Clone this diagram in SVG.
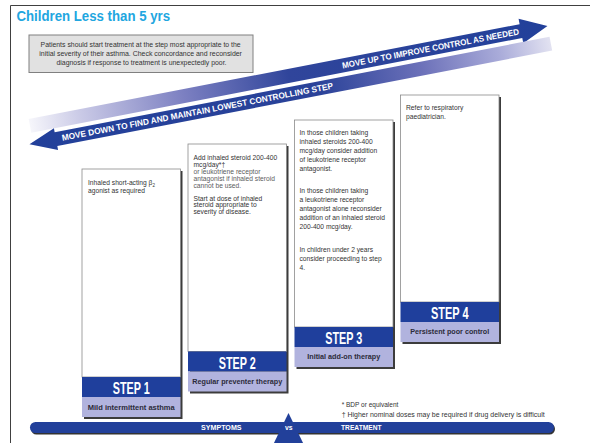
<svg xmlns="http://www.w3.org/2000/svg" width="595" height="443" viewBox="0 0 595 443">
<defs>
<linearGradient id="gUp" x1="0" y1="0" x2="527" y2="0" gradientUnits="userSpaceOnUse">
<stop offset="0" stop-color="#f6f6fb"/>
<stop offset="0.1" stop-color="#c9c9e6"/>
<stop offset="0.3" stop-color="#7b7fc1"/>
<stop offset="0.5" stop-color="#30459b"/>
<stop offset="1" stop-color="#22409a"/>
</linearGradient>
<linearGradient id="gDown" x1="0" y1="0" x2="527" y2="0" gradientUnits="userSpaceOnUse">
<stop offset="0" stop-color="#22409a"/>
<stop offset="0.55" stop-color="#2a4299"/>
<stop offset="0.75" stop-color="#6c71b9"/>
<stop offset="0.9" stop-color="#a9abd9"/>
<stop offset="1" stop-color="#e2e2f1"/>
</linearGradient>
<style>
.frame{fill:none;stroke:#404040;stroke-width:1}
.ff{font-family:"Liberation Sans",Arial,sans-serif}
.body{font-size:6.7px;fill:#333}
.light{fill:#5c5c5c}
.shadow{fill:#3c3c3c}
.box{fill:#fff;stroke:#8a8a8a;stroke-width:0.8}
.hdr{fill:#1f3f9c}
.lab{fill:#b1b3de}
.step{font-weight:bold;font-size:17px;fill:#fff;text-anchor:middle}
.labt{font-weight:bold;font-size:7px;fill:#2b2b3a;text-anchor:middle}
.band{font-weight:bold;font-size:8.5px;fill:#fff}
.blue{fill:#22409a}
.wt{font-weight:bold;font-size:6.8px;fill:#fff;text-anchor:middle}
</style>
</defs>
<rect width="595" height="443" fill="#fff"/>
<path class="frame" d="M10.5,443 V5.5 H590"/>

<g id="title">
<text class="ff" x="16.5" y="20.5" font-size="14" font-weight="bold" fill="#22a6df" textLength="153.5" lengthAdjust="spacingAndGlyphs">Children Less than 5 yrs</text>
</g>

<g id="note">
<rect x="29" y="35" width="224" height="37.5" fill="#e1e1e1" stroke="#808080" stroke-width="1"/>
<text class="ff" font-size="6.4" fill="#333" text-anchor="middle">
<tspan x="141.5" y="46.5" textLength="200" lengthAdjust="spacingAndGlyphs">Patients should start treatment at the step most appropriate to the</tspan>
<tspan x="141.5" y="55.5" textLength="202.7" lengthAdjust="spacingAndGlyphs">initial severity of their asthma. Check concordance and reconsider</tspan>
<tspan x="141.5" y="65" textLength="170" lengthAdjust="spacingAndGlyphs">diagnosis if response to treatment is unexpectedly poor.</tspan>
</text>
</g>

<g id="connectors">
<g transform="translate(30,125.8) rotate(-10.92)">
<path id="arrow-up" d="M0,-7 H500 V-12.5 L527,0 L500,12.5 V7 H0 Z" fill="url(#gUp)"/>
<text class="ff band" x="318" y="2.9" textLength="180" lengthAdjust="spacingAndGlyphs">MOVE UP TO IMPROVE CONTROL AS NEEDED</text>
<path id="arrow-down" d="M527,11 H23 V7 L-4,18 L23,29 V25 H527 Z" fill="url(#gDown)"/>
<text class="ff band" x="29" y="20.9" textLength="276" lengthAdjust="spacingAndGlyphs">MOVE DOWN TO FIND AND MAINTAIN LOWEST CONTROLLING STEP</text>
</g>
</g>

<g id="step1">
<rect class="shadow" x="84" y="171" width="98.5" height="248"/>
<rect class="box" x="82" y="169" width="98.5" height="208"/>
<rect class="hdr" x="82" y="377" width="98.5" height="20"/>
<rect class="lab" x="82" y="397" width="98.5" height="20"/>
<text class="ff body"><tspan x="88" y="185.3">Inhaled short-acting β<tspan dy="1.5" font-size="4.5">2</tspan></tspan><tspan x="88" y="193">agonist as required</tspan></text>
<text class="ff step" x="131.25" y="394.3" textLength="37" lengthAdjust="spacingAndGlyphs">STEP 1</text>
<text class="ff labt" x="131.25" y="409.5" textLength="87" lengthAdjust="spacingAndGlyphs">Mild intermittent asthma</text>
</g>

<g id="step2">
<rect class="shadow" x="190" y="146" width="98.5" height="247.5"/>
<rect class="box" x="188" y="144" width="98.5" height="207.5"/>
<rect class="hdr" x="188" y="351.5" width="98.5" height="20"/>
<rect class="lab" x="188" y="371.5" width="98.5" height="20"/>
<text class="ff body">
<tspan x="193.5" y="160.3">Add inhaled steroid 200-400</tspan>
<tspan x="193.5" y="167.2">mcg/day*†</tspan>
<tspan x="193.5" y="174.1" class="light">or leukotriene receptor</tspan>
<tspan x="193.5" y="181" class="light">antagonist if inhaled steroid</tspan>
<tspan x="193.5" y="187.9" class="light">cannot be used.</tspan>
<tspan x="193.5" y="200.5">Start at dose of inhaled</tspan>
<tspan x="193.5" y="207.4">steroid appropriate to</tspan>
<tspan x="193.5" y="214.3">severity of disease.</tspan>
</text>
<text class="ff step" x="237.25" y="368.8" textLength="37" lengthAdjust="spacingAndGlyphs">STEP 2</text>
<text class="ff labt" x="237.25" y="384" textLength="90" lengthAdjust="spacingAndGlyphs">Regular preventer therapy</text>
</g>

<g id="step3">
<rect class="shadow" x="296.5" y="122" width="98.5" height="247"/>
<rect class="box" x="294.5" y="120" width="98.5" height="207"/>
<rect class="hdr" x="294.5" y="327" width="98.5" height="20"/>
<rect class="lab" x="294.5" y="347" width="98.5" height="20"/>
<text class="ff body">
<tspan x="299.5" y="135.3">In those children taking</tspan>
<tspan x="299.5" y="144.3">inhaled steroids 200-400</tspan>
<tspan x="299.5" y="153.3">mcg/day consider addition</tspan>
<tspan x="299.5" y="162.3">of leukotriene receptor</tspan>
<tspan x="299.5" y="171.3">antagonist.</tspan>
<tspan x="299.5" y="193">In those children taking</tspan>
<tspan x="299.5" y="202">a leukotriene receptor</tspan>
<tspan x="299.5" y="211">antagonist alone reconsider</tspan>
<tspan x="299.5" y="220">addition of an inhaled steroid</tspan>
<tspan x="299.5" y="229">200-400 mcg/day.</tspan>
<tspan x="299.5" y="252">In children under 2 years</tspan>
<tspan x="299.5" y="261">consider proceeding to step</tspan>
<tspan x="299.5" y="270">4.</tspan>
</text>
<text class="ff step" x="343.75" y="344.3" textLength="37" lengthAdjust="spacingAndGlyphs">STEP 3</text>
<text class="ff labt" x="343.75" y="359.3" textLength="73" lengthAdjust="spacingAndGlyphs">Initial add-on therapy</text>
</g>

<g id="step4">
<rect class="shadow" x="402.5" y="97" width="98.5" height="247"/>
<rect class="box" x="400.5" y="95" width="98.5" height="207"/>
<rect class="hdr" x="400.5" y="302" width="98.5" height="20"/>
<rect class="lab" x="400.5" y="322" width="98.5" height="20"/>
<text class="ff body">
<tspan x="406" y="110.3">Refer to respiratory</tspan>
<tspan x="406" y="119.3">paediatrician.</tspan>
</text>
<text class="ff step" x="449.75" y="319.3" textLength="37.5" lengthAdjust="spacingAndGlyphs">STEP 4</text>
<text class="ff labt" x="449.75" y="334.4" textLength="79" lengthAdjust="spacingAndGlyphs">Persistent poor control</text>
</g>

<g id="footnotes">
<text class="ff" font-size="6.5" fill="#333">
<tspan x="341.7" y="407">* BDP or equivalent</tspan>
<tspan x="341.7" y="416.5" textLength="203" lengthAdjust="spacingAndGlyphs">† Higher nominal doses may be required if drug delivery is difficult</tspan>
</text>
</g>

<g id="scale-bar">
<rect x="31" y="423.5" width="524" height="11" rx="5.5" fill="#333"/>
<rect class="blue" x="30" y="422" width="524" height="11" rx="5.5"/>
<polygon class="blue" points="288.5,413 272,447 305,447"/>
<text class="ff wt" x="221.3" y="430" textLength="40.5" lengthAdjust="spacingAndGlyphs">SYMPTOMS</text>
<text class="ff wt" x="288.8" y="429.5" font-size="5.5">vs</text>
<text class="ff wt" x="361.3" y="430" textLength="40.5" lengthAdjust="spacingAndGlyphs">TREATMENT</text>
</g>
</svg>
